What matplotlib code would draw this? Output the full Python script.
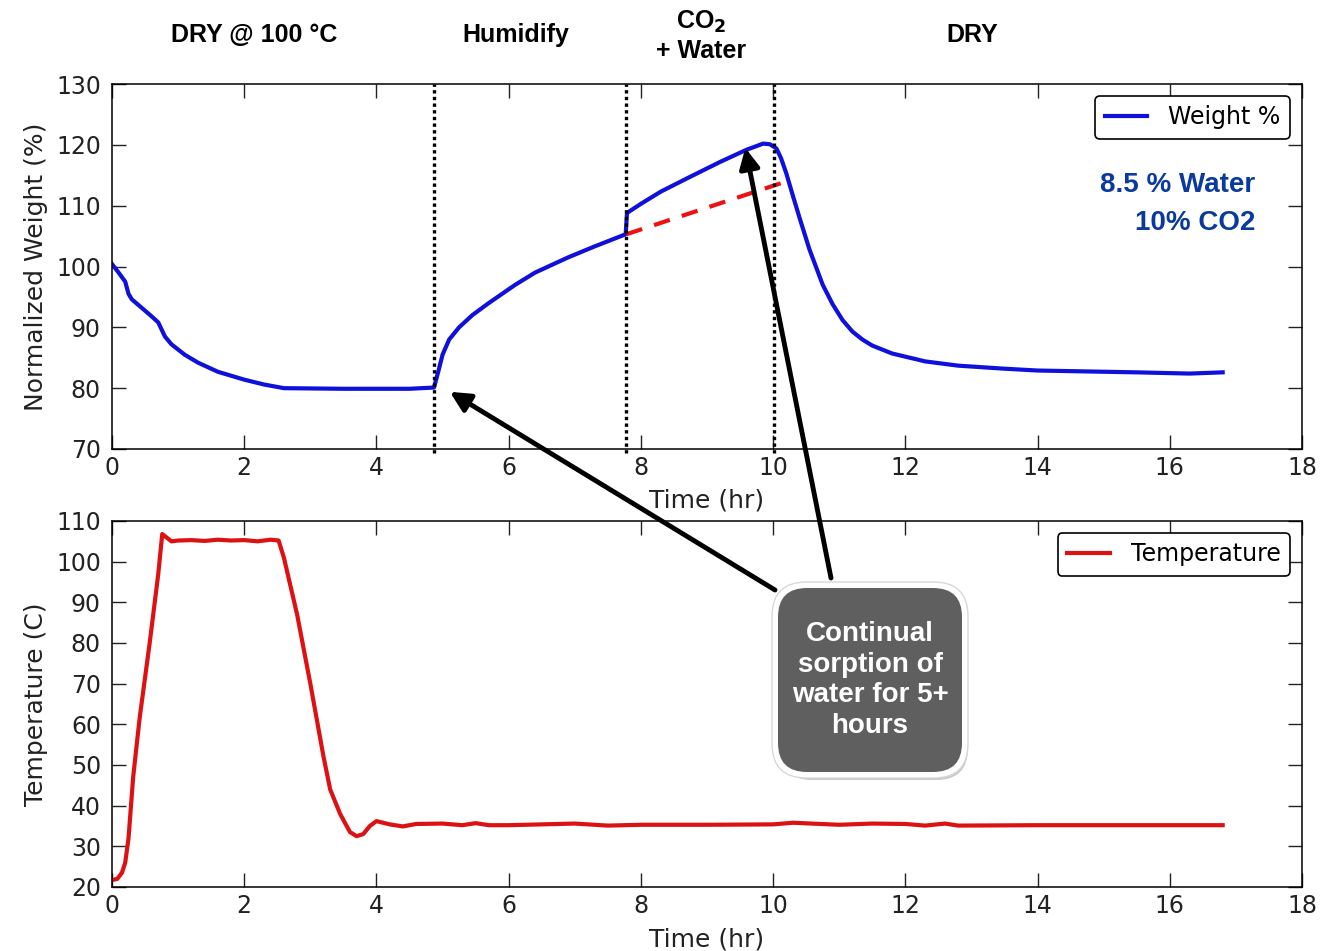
#!/usr/bin/env python3
# -*- coding: utf-8 -*-

import matplotlib
matplotlib.use("Agg")
import matplotlib.pyplot as plt
from matplotlib.patches import FancyBboxPatch

# ----------------------------
# Data
# ----------------------------

weight_time = [0.0, 0.1, 0.2, 0.25, 0.3, 0.45, 0.6, 0.7, 0.8, 0.9, 1.1, 1.3, 1.6,
               2.0, 2.3, 2.6, 3.5, 4.5, 4.87, 4.93, 5.0, 5.1, 5.25, 5.45, 5.7,
               5.9, 6.1, 6.4, 6.9, 7.3, 7.77, 7.79, 8.0, 8.3, 8.7, 9.2, 9.6,
               9.85, 9.95, 10.05, 10.12, 10.2, 10.3, 10.4, 10.55, 10.75, 10.9,
               11.05, 11.2, 11.35, 11.5, 11.8, 12.3, 12.8, 13.5, 14.0, 15.5,
               16.3, 16.8]
weight_pct = [100.4, 99.0, 97.5, 95.5, 94.6, 93.2, 91.8, 90.8, 88.5, 87.2, 85.5,
              84.2, 82.7, 81.4, 80.6, 80.0, 79.9, 79.9, 80.1, 82.5, 85.5, 88.0,
              90.0, 92.0, 94.0, 95.5, 97.0, 99.0, 101.5, 103.3, 105.3, 108.8,
              110.3, 112.3, 114.5, 117.2, 119.2, 120.2, 120.1, 119.4, 117.8,
              115.3, 111.6, 108.0, 102.8, 97.0, 93.8, 91.2, 89.3, 88.0, 87.0,
              85.7, 84.4, 83.7, 83.2, 82.9, 82.6, 82.4, 82.6]

temp_time = [0.0, 0.08, 0.15, 0.2, 0.25, 0.32, 0.42, 0.57, 0.7, 0.76, 0.82, 0.9,
             1.0, 1.2, 1.4, 1.6, 1.8, 2.0, 2.2, 2.4, 2.52, 2.6, 2.7, 2.8, 3.0,
             3.2, 3.3, 3.45, 3.6, 3.7, 3.8, 3.9, 4.0, 4.2, 4.4, 4.6, 5.0, 5.3,
             5.5, 5.7, 6.0, 6.5, 7.0, 7.5, 8.0, 9.0, 10.0, 10.3, 11.0, 11.5,
             12.0, 12.3, 12.6, 12.8, 14.0, 16.8]
temp_c = [21.7, 22.0, 23.5, 26.0, 32.0, 47.0, 61.8, 80.0, 97.0, 106.8, 106.0,
          105.0, 105.2, 105.3, 105.1, 105.4, 105.2, 105.3, 105.0, 105.4, 105.2,
          101.0, 94.0, 87.0, 70.0, 52.0, 44.0, 38.0, 33.5, 32.5, 33.0, 35.0,
          36.2, 35.4, 34.9, 35.5, 35.6, 35.2, 35.7, 35.2, 35.2, 35.4, 35.6,
          35.1, 35.3, 35.3, 35.4, 35.8, 35.3, 35.6, 35.5, 35.1, 35.6, 35.1,
          35.2, 35.2]

phase_bounds = [4.87, 7.78, 10.02]
co2_baseline_time = [7.78, 10.26]
co2_baseline_pct = [105.3, 114.2]

phase_labels = ["DRY @ 100 °C", "Humidify", "CO$_\\mathbf{2}$\n+ Water", "DRY"]
conditions = ["8.5 % Water", "10% CO2"]
callout = "Continual\nsorption of\nwater for 5+\nhours"

# ----------------------------
# Figure
# ----------------------------

W, H = 1320, 951
fig = plt.figure(figsize=(W / 100, H / 100), dpi=100)
fig.patch.set_facecolor("white")


def px(x, y):
    """figure pixel (from top-left) -> figure fraction"""
    return x / W, 1 - y / H


ax1 = fig.add_axes([112 / W, 1 - 449 / H, 1190 / W, 365 / H])
ax2 = fig.add_axes([112 / W, 1 - 887 / H, 1190 / W, 366 / H])
ax1.set_zorder(2)

for ax in (ax1, ax2):
    ax.set_xlim(0, 18)
    ax.set_xticks(range(0, 19, 2))
    ax.tick_params(direction="in", top=True, right=True, length=10, width=1,
                   labelsize=17, colors="#222222")
    ax.tick_params(axis="x", pad=5)
    ax.tick_params(axis="y", pad=8)
    for s in ax.spines.values():
        s.set_linewidth(1.1)

ax1.set_xlabel("Time (hr)", fontsize=18, color="#222222", labelpad=6)
ax2.set_xlabel("Time (hr)", fontsize=18, color="#222222", labelpad=7)

# top panel: weight
ax1.plot(weight_time, weight_pct, color="#1010dd", lw=3.0, label="Weight %",
         solid_joinstyle="round")
ax1.plot(co2_baseline_time, co2_baseline_pct, color="#ee1111", lw=3.0,
         dashes=(4, 3))
for xb in phase_bounds:
    ax1.axvline(xb, color="black", lw=2.4, dashes=(1, 1), ymin=-0.01, clip_on=False)
ax1.set_ylim(70, 130)
ax1.set_yticks(range(70, 131, 10))
ax1.set_ylabel("Normalized Weight (%)", fontsize=18, color="#222222", labelpad=6)
leg1 = ax1.legend(loc="upper right", fontsize=17, handlelength=1.8,
                  handletextpad=0.9, fancybox=True, framealpha=1,
                  borderaxespad=0.5)
leg1.get_frame().set_edgecolor("black")
leg1.get_frame().set_linewidth(1.2)

# bottom panel: temperature
ax2.plot(temp_time, temp_c, color="#dd1111", lw=3.0, label="Temperature",
         solid_joinstyle="round")
ax2.set_ylim(20, 110)
ax2.set_yticks(range(20, 111, 10))
ax2.set_ylabel("Temperature (C)", fontsize=18, color="#222222", labelpad=6)
leg2 = ax2.legend(loc="upper right", fontsize=17, handlelength=1.8,
                  handletextpad=0.9, fancybox=True, framealpha=1,
                  borderaxespad=0.5)
leg2.get_frame().set_edgecolor("black")
leg2.get_frame().set_linewidth(1.2)

# phase headers
header_pos = [(254, 35), (516, 35), (701, 36), (972, 35)]
for label, (x, y) in zip(phase_labels, header_pos):
    fig.text(*px(x, y), label, ha="center", va="center", fontsize=18,
             fontweight="bold", family="Liberation Sans", linespacing=1.25)

# test conditions
for label, y in zip(conditions, [185, 223]):
    fig.text(*px(1255, y), label, ha="right", va="center", fontsize=20,
             fontweight="bold", color="#0a3a9e", family="Liberation Sans")

# arrows from the callout box
ax1.annotate("", xy=(5.11, 79.4), xytext=px(775, 590),
             textcoords="figure fraction", annotation_clip=False,
             arrowprops=dict(arrowstyle="-|>", lw=3.5, color="black",
                             mutation_scale=30, shrinkA=0, shrinkB=0))
ax1.annotate("", xy=(9.58, 119.5), xytext=px(831, 578),
             textcoords="figure fraction", annotation_clip=False,
             arrowprops=dict(arrowstyle="-|>", lw=3.5, color="black",
                             mutation_scale=30, shrinkA=0, shrinkB=0))

# callout box (shadow, white rim, dark fill)
bx0, by0 = px(778, 772)
bw, bh = 184 / W, 184 / H
shadow = FancyBboxPatch((bx0 + 2 / W, by0 - 8 / H), bw + 4 / W, bh + 4 / H,
                        boxstyle="round,pad=0,rounding_size=0.024",
                        transform=fig.transFigure, facecolor="#8a8a8a",
                        edgecolor="none", alpha=0.45, zorder=5,
                        mutation_aspect=W / H)
rim = FancyBboxPatch((bx0 - 6 / W, by0 - 6 / H), bw + 12 / W, bh + 12 / H,
                     boxstyle="round,pad=0,rounding_size=0.026",
                     transform=fig.transFigure, facecolor="white",
                     edgecolor="#d8d8d8", lw=1, zorder=6,
                     mutation_aspect=W / H)
box = FancyBboxPatch((bx0, by0), bw, bh,
                     boxstyle="round,pad=0,rounding_size=0.022",
                     transform=fig.transFigure, facecolor="#5f5f5f",
                     edgecolor="none", zorder=7, mutation_aspect=W / H)
for p in (shadow, rim, box):
    fig.add_artist(p)
fig.text(*px(870, 680), callout, ha="center", va="center", fontsize=20,
         fontweight="bold", color="white", family="Liberation Sans",
         linespacing=1.22, zorder=8)

fig.savefig("out.png", dpi=100)
